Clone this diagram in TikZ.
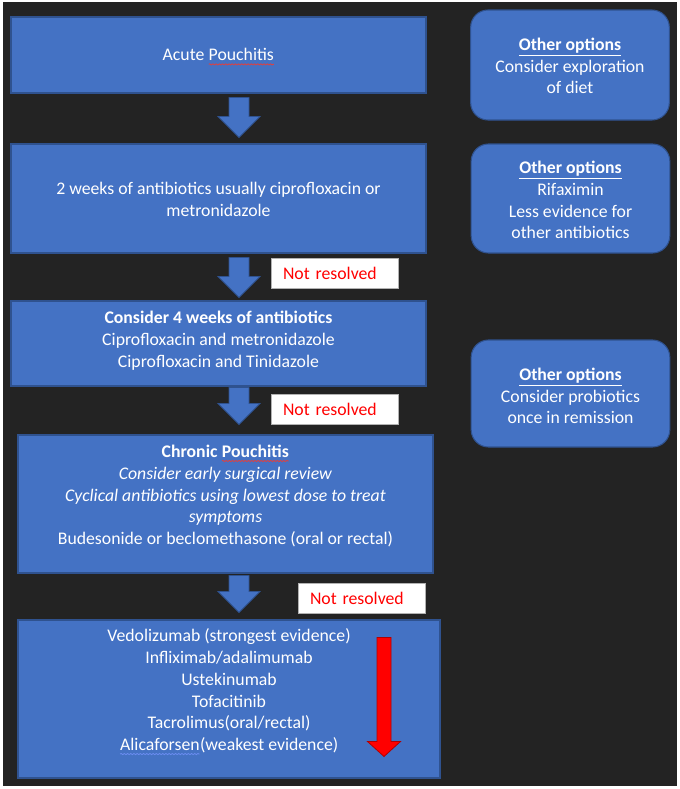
\documentclass[tikz,border=0pt]{standalone}
\usepackage{fontspec}
\setmainfont{Carlito}
\usetikzlibrary{calc,decorations.pathmorphing}
\definecolor{bg}{HTML}{232323}
\definecolor{boxblue}{HTML}{4472C4}
\definecolor{boxline}{HTML}{2F528F}
\definecolor{squigred}{HTML}{E0403F}
\definecolor{squigblue}{HTML}{6A8CF0}
\newcommand\squig[2]{\tikz[baseline=(sq.base)]{\node[inner sep=0pt,outer sep=0pt,minimum width=0pt,minimum height=0pt,anchor=base,shape=rectangle,draw=none,fill=none](sq){#2};\draw[#1,line width=0.6pt,decorate,decoration={snake,amplitude=0.45pt,segment length=2.4pt}]([yshift=-2.6pt]sq.base west)--([yshift=-2.6pt]sq.base east);}}
\newcommand\fatarrow[6]{%
  \path[#1] let \p1=(#2), \p2=(#3) in
    (\x1-#4,\y1) -- (\x1+#4,\y1) -- (\x1+#4,\y2+#6) -- (\x1+#5,\y2+#6) -- (\x2,\y2)
    -- (\x1-#5,\y2+#6) -- (\x1-#4,\y2+#6) -- cycle;}
\tikzset{
  bluebox/.style={draw=boxline, line width=0.8pt, fill=boxblue, inner sep=0pt},
  optbox/.style={bluebox, rounded corners=13pt, minimum width=149pt},
  txt/.style={text=white, align=center, font=\fontsize{13.3}{16.3}\selectfont, inner sep=0pt},
  nrbox/.style={draw=black!30, line width=0.4pt, fill=white, inner ysep=0pt, inner xsep=9pt,
     minimum height=22.5pt, text width=77.25pt, align=left, text=red,
     font=\fontsize{13.3}{16.3}\selectfont},
  blockarr/.style={fill=boxblue, draw=boxline, line width=0.6pt},
  redarr/.style={fill=red, draw=red!70!black, line width=0.6pt}
}
\begin{document}
\begin{tikzpicture}[x=0.75pt,y=-0.75pt]
\useasboundingbox (0,0) rectangle (680,789);
\fill[white] (0,0) rectangle (680,789);
\fill[bg] (3,2) rectangle (677,786);

% main flow boxes
\node[bluebox, minimum width=311.25pt, minimum height=57pt] (b1) at (218.5,55) {};
\node[bluebox, minimum width=311.25pt, minimum height=81.75pt] (b2) at (218.5,198.5) {};
\node[bluebox, minimum width=311.25pt, minimum height=63.75pt] (b3) at (218.5,343.5) {};
\node[bluebox, minimum width=311.25pt, minimum height=103.5pt] (b4) at (225.5,504) {};
\node[bluebox, minimum width=316.5pt, minimum height=118.5pt] (b5) at (229,699) {};

\node[txt] (t1) at ($(b1.center)+(0,2)$) {Acute \squig{squigred}{Pouchitis}};
\node[txt] (t2) at ($(b2.center)+(0,1)$) {2 weeks of antibiotics usually ciprofloxacin or\\metronidazole};
\node[txt] (t3) at ($(b3.center)+(0,-3)$) {\textbf{Consider 4 weeks of antibiotics}\\Ciprofloxacin and metronidazole\\Ciprofloxacin and Tinidazole};
\node[txt] (t4) at ($(b4.center)+(0,-8)$) {\textbf{Chronic \squig{squigred}{Pouchitis}}\\
  \textit{Consider early surgical review}\\
  \textit{Cyclical antibiotics using lowest dose to treat}\\
  \textit{symptoms}\\
  Budesonide or beclomethasone (oral or rectal)};
\node[txt] (t5) at ($(b5.center)+(0,-7)$) {Vedolizumab (strongest evidence)\\Infliximab/adalimumab\\Ustekinumab\\Tofacitinib\\Tacrolimus(oral/rectal)\\\squig{squigblue}{Alicaforsen}(weakest evidence)};

% other options
\node[optbox, minimum height=82.5pt] (r1) at (570,65) {};
\node[optbox, minimum height=81.75pt] (r2) at (570.5,198.5) {};
\node[optbox, minimum height=80.25pt] (r3) at (570.5,393.5) {};
\node[txt] (rt1) at ($(r1.center)+(0,1)$) {\underline{\textbf{Other options}}\\Consider exploration\\of diet};
\node[txt] (rt2) at ($(r2.center)+(0,1.5)$) {\underline{\textbf{Other options}}\\Rifaximin\\Less evidence for\\other antibiotics};
\node[txt] (rt3) at ($(r3.center)+(0,2.5)$) {\underline{\textbf{Other options}}\\Consider probiotics\\once in remission};

% not resolved labels
\node[nrbox] (nr1) at (334.5,273) {Not resolved};
\node[nrbox] (nr2) at (334.5,409) {Not resolved};
\node[nrbox] (nr3) at (361.5,598) {Not resolved};

% block arrows
\coordinate (a1s) at ($(b1.south)+(20.5,4)$);
\coordinate (a1e) at ($(b2.north)+(20.5,-6)$);
\coordinate (a2s) at ($(b2.south)+(20.5,4)$);
\coordinate (a2e) at ($(b3.north)+(20.5,-3)$);
\coordinate (a3s) at ($(b3.south)+(20.5,1)$);
\coordinate (a3e) at ($(b4.north)+(13.5,-10)$);
\coordinate (a4s) at ($(b4.south)+(13.5,2)$);
\coordinate (a4e) at ($(b5.north)+(10,-7)$);
\fatarrow{blockarr}{a1s}{a1e}{7.5pt}{15.75pt}{15.75pt}
\fatarrow{blockarr}{a2s}{a2e}{7.5pt}{15.75pt}{15.75pt}
\fatarrow{blockarr}{a3s}{a3e}{7.5pt}{15.75pt}{15.75pt}
\fatarrow{blockarr}{a4s}{a4e}{7.5pt}{15.75pt}{15.75pt}

% red evidence arrow
\coordinate (ra1) at ($(b5.north)+(155,18)$);
\coordinate (ra2) at ($(b5.north)+(155,137)$);
\fatarrow{redarr}{ra1}{ra2}{5.25pt}{12.4pt}{11.25pt}
\end{tikzpicture}
\end{document}
